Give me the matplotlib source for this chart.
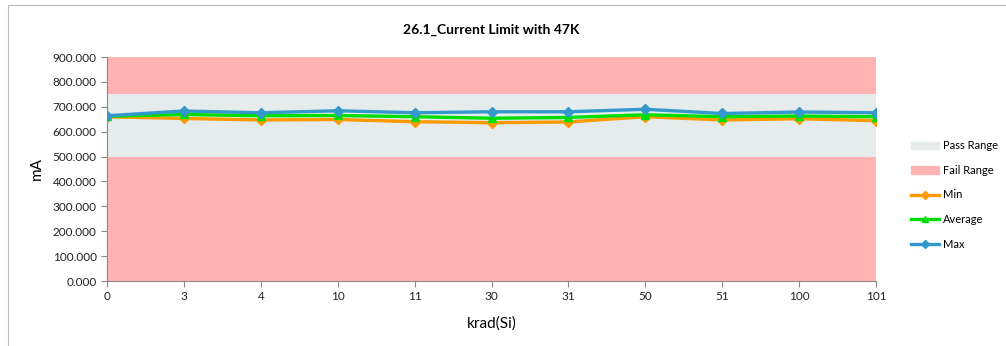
import numpy as np
import matplotlib.pyplot as plt
from matplotlib.patches import Patch
from matplotlib.lines import Line2D

plt.rcParams['font.family'] = ['Lato', 'DejaVu Sans']

# data
krad = ['0', '3', '4', '10', '11', '30', '31', '50', '51', '100', '101']
min_ma = [660, 653, 647, 649, 640, 636, 639, 660, 647, 652, 644]
avg_ma = [662, 669, 664, 665, 660, 654, 657, 668, 660, 663, 660]
max_ma = [664, 683, 676, 684, 676, 680, 680, 690, 673, 679, 676]
pass_lo, pass_hi = 500, 750
y_top = 900

x = np.arange(len(krad))

fig = plt.figure(figsize=(10.06, 3.46), dpi=100)
ax = fig.add_axes([107 / 1006, 1 - 281 / 346, (876 - 107) / 1006, (281 - 57) / 346])

# pass / fail bands
ax.axhspan(0, pass_lo, color='#FFB3B3', lw=0, zorder=0)
ax.axhspan(pass_lo, pass_hi, color='#E6EBEB', lw=0, zorder=0)
ax.axhspan(pass_hi, y_top, color='#FFB3B3', lw=0, zorder=0)

ax.plot(x, min_ma, color='#FF9900', lw=2.4, marker='D', ms=5, zorder=3)
ax.plot(x, avg_ma, color='#00DD00', lw=2.4, marker='^', ms=6, zorder=4)
ax.plot(x, max_ma, color='#3399CC', lw=2.4, marker='D', ms=5, zorder=5)

ax.set_xlim(0, len(krad) - 1)
ax.set_ylim(0, y_top)
ax.set_xticks(x)
ax.set_xticklabels(krad)
ax.set_yticks(np.arange(0, 901, 100))
ax.set_yticklabels(['%.3f' % v for v in np.arange(0, 901, 100)])
ax.tick_params(labelsize=8.5, colors='#222222', length=4, color='#888888')
for s in ['top', 'right']:
    ax.spines[s].set_visible(False)
for s in ['left', 'bottom']:
    ax.spines[s].set_color('#888888')
ax.set_ylabel('mA', fontsize=11, labelpad=6)
ax.set_xlabel('krad(Si)', fontsize=11, labelpad=10)
ax.set_title('26.1_Current Limit with 47K', fontsize=10, fontweight='bold', pad=17)

handles = [
    Patch(color='#E6EBEB', label='Pass Range'),
    Patch(color='#FFB3B3', label='Fail Range'),
    Line2D([], [], color='#FF9900', lw=2.4, marker='D', ms=4, label='Min'),
    Line2D([], [], color='#00DD00', lw=2.4, marker='^', ms=4, label='Average'),
    Line2D([], [], color='#3399CC', lw=2.4, marker='D', ms=4, label='Max'),
]
fig.legend(handles=handles, loc='center left', bbox_to_anchor=(905 / 1006, 1 - 195 / 346),
           frameon=False, fontsize=8, labelspacing=1.22, handlelength=2.6,
           handletextpad=0.3, borderpad=0)

# chart border (top and left visible)
fig.add_artist(Line2D([8 / 1006, 8 / 1006, 1], [0, 1 - 5 / 346, 1 - 5 / 346],
                      transform=fig.transFigure, color='#BBBBBB', lw=0.8))

fig.savefig('out.png', dpi=100)
